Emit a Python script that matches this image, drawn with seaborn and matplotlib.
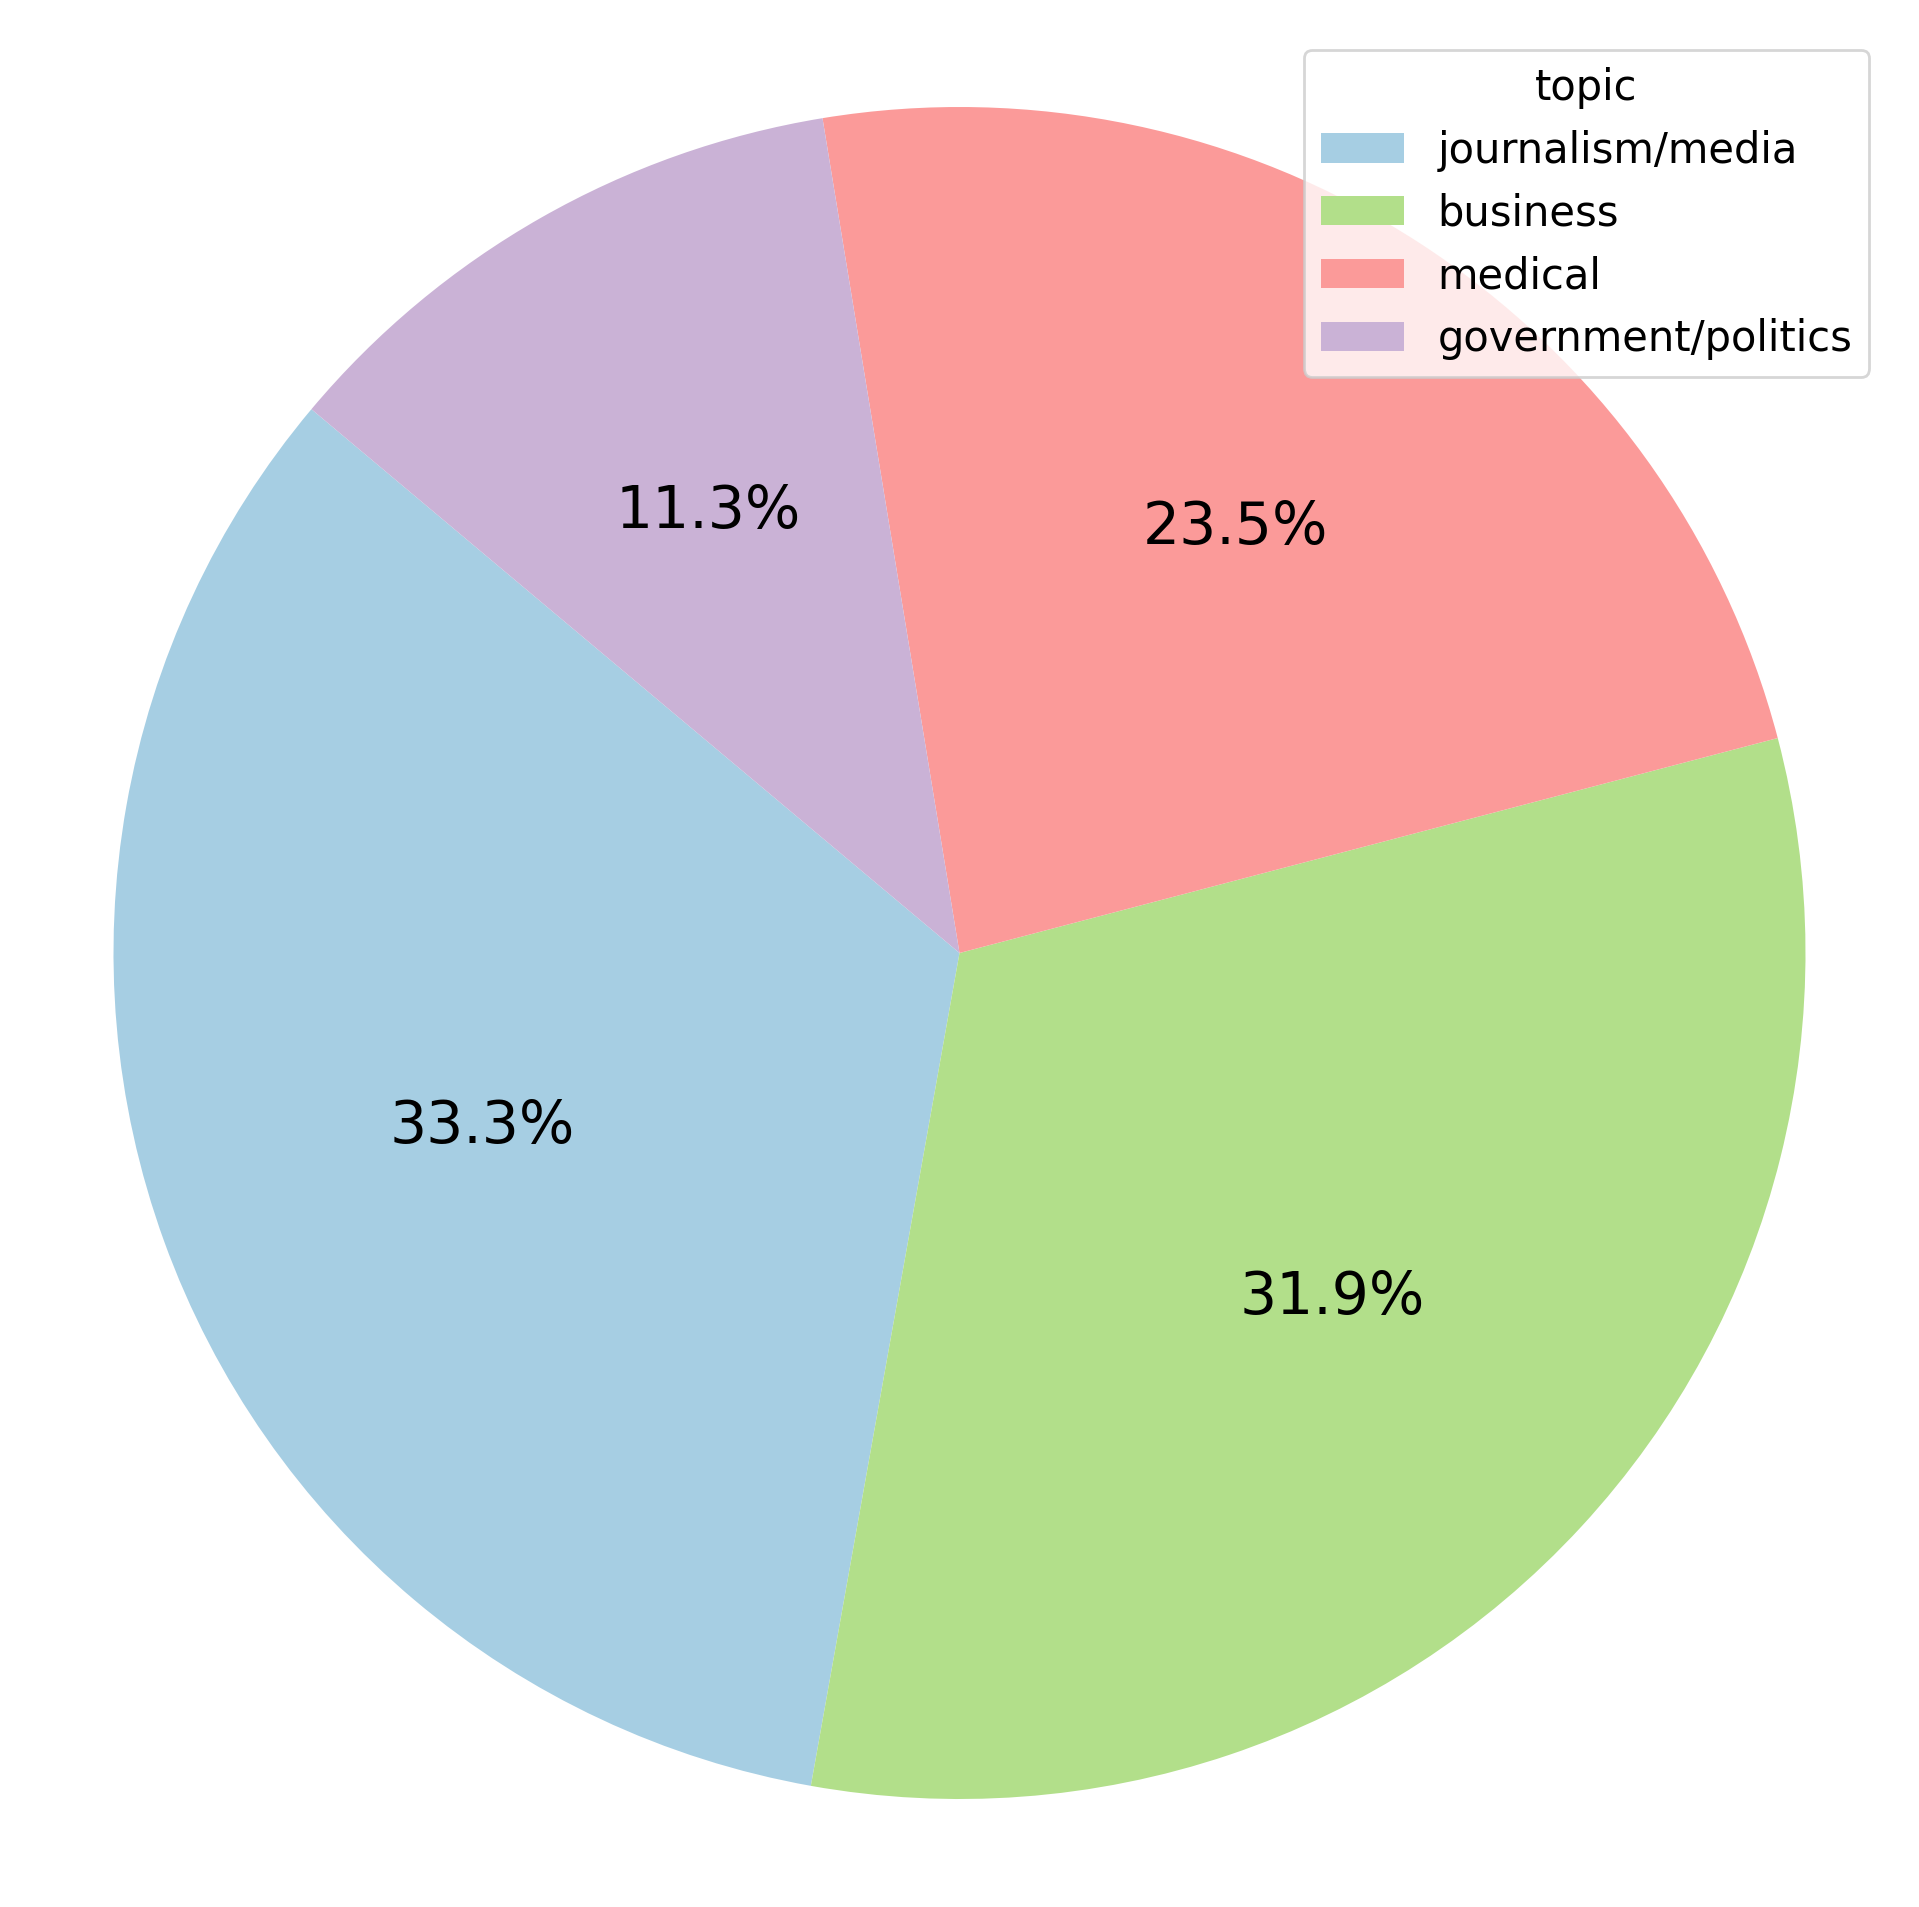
import matplotlib
matplotlib.use("Agg")
import matplotlib.pyplot as plt
import seaborn as sns

plt.rcParams['font.family'] = ['DejaVu Sans']

topics = ["journalism/media", "business", "medical", "government/politics"]
shares = [33.3, 31.9, 23.5, 11.3]
palette = sns.color_palette("Paired")
colors = [palette[0], palette[2], palette[4], palette[8]]

W, H, DPI = 1919, 1907, 200
fig = plt.figure(figsize=(W / DPI, H / DPI), dpi=DPI)
R = 846
cx, cy = 959.5, 953
ax = fig.add_axes([(cx - R) / W, (H - cy - R) / H, 2 * R / W, 2 * R / H])

wedges, texts, autotexts = ax.pie(
    shares, colors=colors, startangle=140, autopct="%1.1f%%",
    pctdistance=0.6, textprops={"fontsize": 21, "color": "black"},
    wedgeprops={"linewidth": 0, "edgecolor": "none"},
)
ax.set_xlim(-1, 1)
ax.set_ylim(-1, 1)
ax.set_aspect("equal")
ax.axis("off")

leg = ax.legend(wedges, topics, title="topic", loc="upper right",
                bbox_to_anchor=(1869 / W, 1 - 50 / H), bbox_transform=fig.transFigure,
                borderaxespad=0, fontsize=15, title_fontsize=15,
                frameon=True, fancybox=True, framealpha=0.8)

fig.savefig("out.png", dpi=DPI)
